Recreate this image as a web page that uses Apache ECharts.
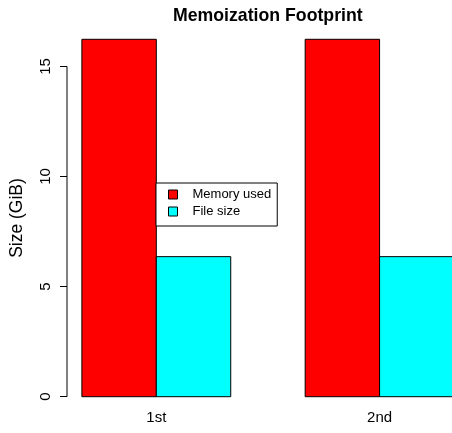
<!DOCTYPE html>
<html>
<head>
<meta charset="utf-8">
<script src="https://cdn.jsdelivr.net/npm/echarts@6/dist/echarts.min.js"></script>
<style>html,body{margin:0;padding:0;background:#fff}#c{width:452px;height:433px}</style>
</head>
<body>
<div id="c"></div>
<script>
const categories = ['1st', '2nd'];
const memoryUsed = [16.23, 16.23];
const fileSize = [6.36, 6.36];
const yTicks = [0, 5, 10, 15];
const seriesNames = ['Memory used', 'File size'];
const seriesColors = ['#FF0000', '#00FFFF'];

const FONT = 'Liberation Sans, Arial, Helvetica, sans-serif';
const xMin = 0.8, xMax = 5.973;
const yMax = Math.max(...memoryUsed, ...fileSize);
const yPad = yMax * 0.04;

function groupStart(i) { return 1 + 3 * i; }
function barData(values, j) {
  return values.map((v, i) => [groupStart(i) + j + 0.5, v]);
}
function renderBar(params, api) {
  const c = api.value(0), v = api.value(1);
  const p0 = api.coord([c - 0.5, 0]);
  const p1 = api.coord([c + 0.5, v]);
  return {
    type: 'rect',
    shape: { x: p0[0], y: p1[1], width: p1[0] - p0[0], height: p0[1] - p1[1] },
    style: { fill: api.visual('color'), stroke: '#000', lineWidth: 1 }
  };
}

const chart = echarts.init(document.getElementById('c'), null, { renderer: 'canvas' });
chart.setOption({
  animation: false,
  backgroundColor: '#fff',
  title: {
    text: 'Memoization Footprint',
    left: 168, top: 2,
    textStyle: { fontFamily: FONT, fontSize: 17.7, fontWeight: 'bold', color: '#000' }
  },
  grid: { left: 64, top: 25, right: 0, height: 386 },
  xAxis: {
    type: 'value', min: xMin, max: xMax,
    axisLine: { show: false }, axisTick: { show: false }, splitLine: { show: false },
    axisLabel: {
      customValues: categories.map((c, i) => groupStart(i) + 1),
      formatter: (v) => categories[Math.round((v - 2) / 3)],
      fontFamily: FONT, fontSize: 15, color: '#000', margin: -1
    }
  },
  yAxis: {
    type: 'value', min: -yPad, max: yMax + yPad,
    name: 'Size (GiB)', nameLocation: 'middle', nameRotate: 90, nameGap: 41,
    nameTextStyle: { fontFamily: FONT, fontSize: 17.5, color: '#000' },
    axisLine: { show: false },
    splitLine: { show: false },
    axisTick: { show: true, customValues: yTicks, length: 7, lineStyle: { color: '#000', width: 1 } },
    axisLabel: {
      customValues: yTicks, rotate: 90, fontFamily: FONT, fontSize: 15, color: '#000', margin: 14
    }
  },
  legend: {
    orient: 'vertical', left: 156, top: 183,
    backgroundColor: '#fff', borderColor: '#000', borderWidth: 1,
    padding: [5, 6, 8, 12], itemGap: 4, itemWidth: 9, itemHeight: 9,
    textStyle: { fontFamily: FONT, fontSize: 13, color: '#000', padding: [0, 0, 0, 10] },
    data: seriesNames.map((n, i) => ({
      name: n, icon: 'rect',
      itemStyle: { color: seriesColors[i], borderColor: '#000', borderWidth: 1 }
    }))
  },
  series: [
    {
      name: seriesNames[0], type: 'custom', renderItem: renderBar,
      itemStyle: { color: seriesColors[0] },
      encode: { x: 0, y: 1 }, data: barData(memoryUsed, 0)
    },
    {
      name: seriesNames[1], type: 'custom', renderItem: renderBar,
      itemStyle: { color: seriesColors[1] },
      encode: { x: 0, y: 1 }, data: barData(fileSize, 1)
    },
    {
      name: 'axis', type: 'custom',
      renderItem: (params, api) => {
        const a = api.coord([xMin, yTicks[0]]);
        const b = api.coord([xMin, yTicks[yTicks.length - 1]]);
        return { type: 'line', shape: { x1: a[0], y1: a[1], x2: b[0], y2: b[1] },
                 style: { stroke: '#000', lineWidth: 1 } };
      },
      data: [[xMin, 0]], silent: true
    }
  ]
});
</script>
</body>
</html>
